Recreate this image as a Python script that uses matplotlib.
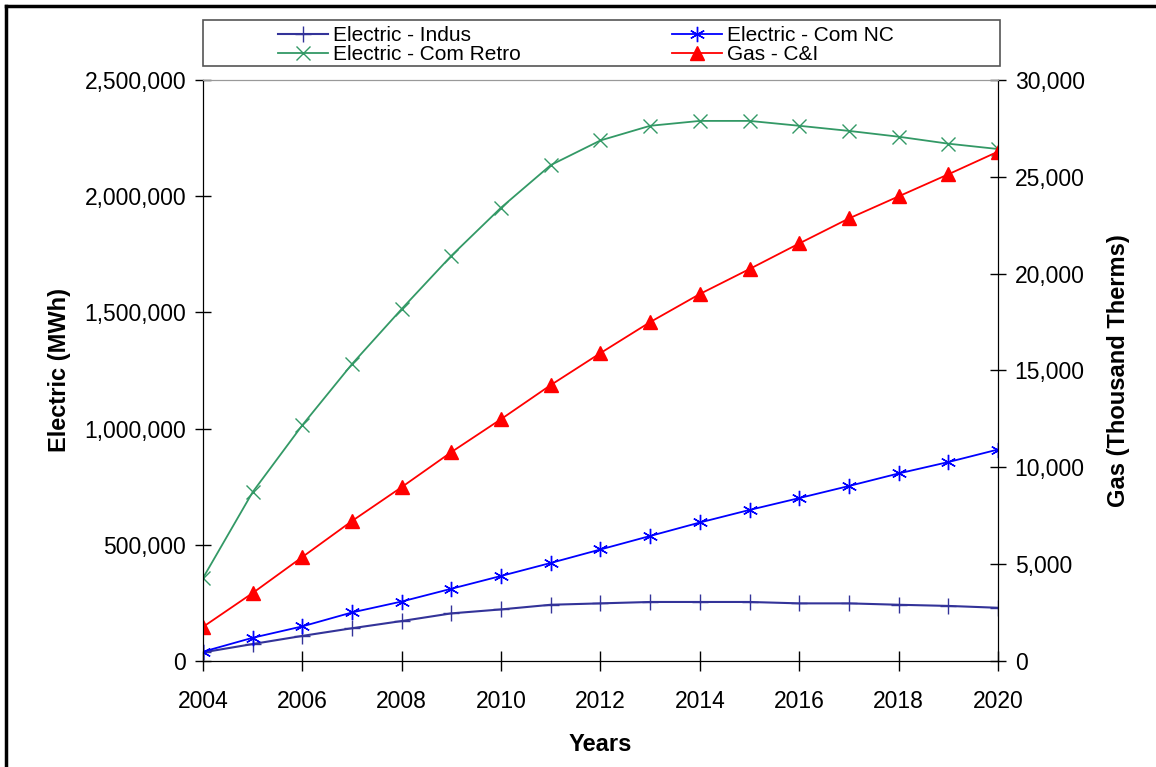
import matplotlib
matplotlib.use('Agg')
import matplotlib.pyplot as plt
import matplotlib.ticker as ticker
from matplotlib.lines import Line2D
from matplotlib.patches import Rectangle

plt.rcParams['font.family'] = ['Liberation Sans', 'DejaVu Sans']

years = list(range(2004, 2021))
# electric (MWh)
indus = [37000, 73000, 108000, 141000, 172000, 205000, 222000, 242000, 248000,
         254000, 254000, 254000, 248000, 248000, 242000, 237000, 229000]
com_nc = [40000, 100000, 149000, 209000, 256000, 311000, 366000, 422000, 480000,
          538000, 596000, 650000, 701000, 753000, 807000, 856000, 910000]
com_retro = [357000, 727000, 1015000, 1278000, 1515000, 1744000, 1951000, 2134000,
             2240000, 2303000, 2324000, 2324000, 2303000, 2281000, 2256000, 2226000, 2203000]
# gas (thousand therms)
gas = [1760, 3510, 5370, 7230, 8980, 10790, 12490, 14250, 15900, 17500, 18950,
       20240, 21560, 22850, 23990, 25130, 26300]

labels = ['Electric - Indus', 'Electric - Com NC', 'Electric - Com Retro', 'Gas - C&I']

fig = plt.figure(figsize=(11.56, 7.67), dpi=100)
ax = fig.add_axes([0.1756, 0.1382, 0.6877, 0.7575])
ax2 = ax.twinx()

l1, = ax.plot(years, indus, color='#333399', lw=1.5, marker='+', ms=12, mew=1.0)
l2, = ax.plot(years, com_nc, color='#0000FF', lw=1.3, marker=(6, 2, 0), ms=11, mew=1.0)
l3, = ax.plot(years, com_retro, color='#339966', lw=1.3, marker='x', ms=10, mew=1.0)
l4, = ax2.plot(years, gas, color='#FF0000', lw=1.3, marker='^', ms=10, mec='#FF0000')

ax.set_xlim(2004, 2020)
ax.set_ylim(0, 2500000)
ax2.set_ylim(0, 30000)
ax.set_xticks(range(2004, 2021, 2))
ax.yaxis.set_major_locator(ticker.MultipleLocator(500000))
ax2.yaxis.set_major_locator(ticker.MultipleLocator(5000))
fmt = ticker.FuncFormatter(lambda v, p: '{:,.0f}'.format(v))
ax.yaxis.set_major_formatter(fmt)
ax2.yaxis.set_major_formatter(fmt)

for a in (ax, ax2):
    a.tick_params(axis='both', direction='inout', length=12, width=1, labelsize=16.5, pad=6)
    a.spines['top'].set_color('#999999')
ax.tick_params(axis='x', length=14, pad=14)

ax.set_xlabel('Years', fontsize=17, fontweight='bold', labelpad=14)
ax.set_ylabel('Electric (MWh)', fontsize=17, fontweight='bold', labelpad=10)
ax2.set_ylabel('Gas (Thousand Therms)', fontsize=17, fontweight='bold', labelpad=16)

# legend box above the plot
fig.patches.append(Rectangle((203 / 1156, 1 - 66 / 767), 797 / 1156, 46 / 767,
                             transform=fig.transFigure, fill=False, ec='#555555', lw=1.2))
fig.legend([l1, l3, l2, l4], [labels[0], labels[2], labels[1], labels[3]], loc='center', ncol=2,
           bbox_to_anchor=(586 / 1156, 1 - 45 / 767), frameon=False, fontsize=15,
           handlelength=2.4, handletextpad=0.25, columnspacing=7.25, labelspacing=0.0,
           borderpad=0.2)

# outer frame lines
fig.add_artist(Line2D([6 / 1156, 1], [1 - 6 / 767, 1 - 6 / 767], transform=fig.transFigure,
                      color='black', lw=2.5))
fig.add_artist(Line2D([6 / 1156, 6 / 1156], [0, 1 - 6 / 767], transform=fig.transFigure,
                      color='black', lw=2.5))

plt.savefig('out.png', dpi=100)
